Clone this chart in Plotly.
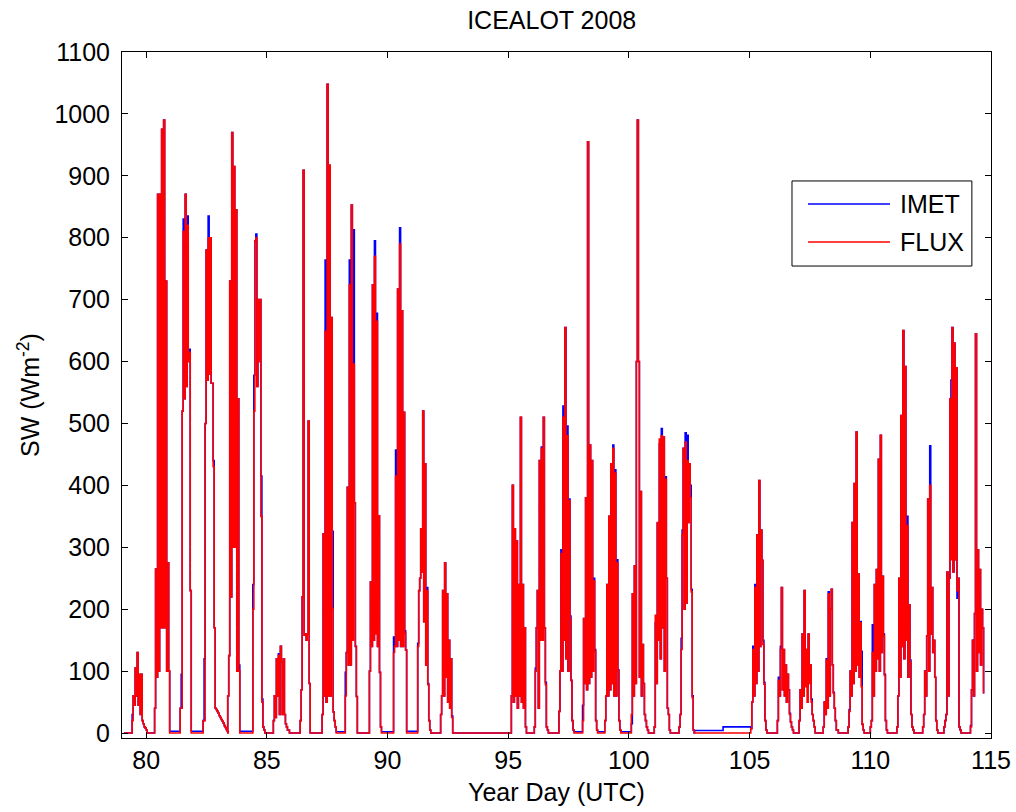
import plotly.graph_objects as go

# ---------------- data ----------------
# start time (year day) of each daylight record, hourly samples follow
pulse_start = [79.42, 80.35, 81.41, 82.36, 83.38, 84.42, 85.27, 86.38, 87.29, 88.25,
               89.25, 90.25, 91.25, 92.20, 95.13, 96.08, 97.10, 98.08, 99.00, 100.10,
               101.05, 102.08, 105.05, 106.15, 107.05, 108.05, 109.08, 110.00, 111.10,
               112.17, 113.05, 114.15]

# FLUX hourly shortwave values (W m-2) for each day
flux_079 = [20, 60, 45, 105, 60, 130, 45, 95, 30, 95, 20, 15, 10, 8, 5, 0]
flux_080 = [40, 265, 90, 870, 100, 870, 170, 975, 170, 990, 170, 730, 100, 275, 100, 0]
flux_081 = [40, 40, 520, 810, 540, 870, 560, 820, 600, 615, 230, 0]
flux_082 = [20, 20, 500, 780, 570, 800, 580, 800, 565, 565, 430, 170, 40, 38, 35, 32, 28,
            25, 22, 19, 16, 12, 9, 6, 3, 0]
flux_083 = [60, 125, 730, 220, 970, 300, 915, 300, 845, 100, 540, 100, 0]
flux_084 = [200, 520, 795, 800, 560, 700, 600, 700, 350, 50, 10, 5, 0]
flux_085 = [20, 60, 25, 120, 60, 125, 30, 140, 115, 30, 120, 30, 15, 10, 5, 5, 0]
flux_086 = [20, 70, 220, 909, 158, 160, 150, 160, 504, 80, 0]
flux_087 = [30, 322, 60, 649, 50, 1048, 60, 917, 60, 671, 201, 34, 20, 10, 0]
flux_088 = [60, 130, 397, 110, 724, 110, 853, 150, 596, 372, 140, 59, 0]
flux_089 = [100, 244, 140, 724, 150, 770, 160, 665, 140, 351, 98, 10, 0]
flux_090 = [130, 140, 415, 140, 717, 150, 790, 140, 682, 140, 518, 161, 134, 0]
flux_091 = [140, 230, 250, 330, 260, 520, 180, 435, 110, 230, 78, 20, 5, 0]
flux_092 = [30, 60, 230, 60, 275, 90, 225, 50, 150, 40, 120, 25, 0]
flux_095 = [60, 400, 50, 330, 60, 310, 40, 240, 60, 510, 50, 240, 40, 170, 10, 0]
flux_096 = [10, 100, 170, 230, 40, 440, 150, 460, 150, 510, 170, 78, 10, 5, 0]
flux_097 = [35, 100, 290, 100, 510, 150, 655, 120, 480, 100, 375, 185, 85, 20, 5, 0]
flux_098 = [20, 185, 80, 380, 70, 955, 80, 465, 90, 440, 100, 246, 132, 20, 5, 0]
flux_099 = [20, 60, 240, 60, 350, 70, 435, 80, 460, 60, 420, 60, 275, 100, 20, 5, 0]
flux_100 = [30, 225, 60, 270, 80, 600, 990, 600, 90, 390, 60, 143, 80, 30, 20, 10, 5, 0]
flux_101 = [10, 190, 80, 340, 150, 475, 120, 480, 170, 478, 100, 410, 250, 40, 30, 5, 0]
flux_102 = [10, 30, 135, 320, 460, 200, 470, 210, 440, 340, 435, 380, 228, 57, 5, 0]
flux_105 = [7, 50, 135, 60, 235, 80, 320, 100, 408, 140, 328, 279, 143, 79, 20, 5, 0]
flux_106 = [20, 85, 60, 135, 235, 70, 135, 60, 110, 50, 95, 70, 30, 18, 10, 5, 0]
flux_107 = [20, 70, 40, 160, 60, 230, 75, 135, 50, 160, 80, 110, 50, 30, 20, 10, 0]
flux_108 = [10, 50, 30, 118, 40, 225, 60, 200, 232, 110, 64, 40, 20, 5, 5, 0]
flux_109 = [10, 35, 100, 60, 340, 80, 403, 100, 486, 110, 257, 90, 178, 75, 14, 5, 0]
flux_110 = [10, 20, 130, 60, 240, 100, 264, 120, 442, 100, 481, 130, 253, 157, 93, 20, 5, 0]
flux_111 = [10, 60, 250, 90, 513, 140, 650, 120, 592, 150, 335, 90, 207, 114, 30, 10, 5, 0]
flux_112 = [10, 30, 100, 60, 157, 378, 100, 400, 160, 235, 130, 150, 90, 20, 5, 0]
flux_113 = [10, 20, 30, 260, 60, 250, 540, 280, 655, 260, 630, 280, 590, 230, 250, 10, 5, 0]
flux_114 = [10, 70, 150, 60, 193, 645, 100, 296, 130, 264, 110, 200, 170, 64]

flux_days = [flux_079, flux_080, flux_081, flux_082, flux_083, flux_084, flux_085, flux_086,
             flux_087, flux_088, flux_089, flux_090, flux_091, flux_092, flux_095, flux_096,
             flux_097, flux_098, flux_099, flux_100, flux_101, flux_102, flux_105, flux_106,
             flux_107, flux_108, flux_109, flux_110, flux_111, flux_112, flux_113, flux_114]

# IMET samples that differ from FLUX: (day, hour index, value)
imet_fix_day = [79, 81, 81, 81, 81, 82, 82, 82, 83, 84, 84, 84, 84, 84, 85, 87, 87, 88, 88, 88,
                89, 89, 89, 90, 90, 90, 90, 91, 91, 91, 92, 96, 96, 96, 97, 97, 97, 97, 97,
                98, 98, 98, 99, 99, 99, 99, 100, 101, 101, 101, 101, 101, 102, 102, 102, 102,
                102, 102, 102, 105, 105, 105, 105, 106, 106, 106, 107, 107, 107, 107, 108, 108,
                108, 109, 109, 109, 110, 110, 110, 111, 111, 112, 113, 113, 114]
imet_fix_idx = [0, 1, 3, 7, 9, 1, 5, 10, 11, 0, 1, 3, 8, 9, 5, 3, 10, 0, 4, 8,
                5, 6, 7, 0, 2, 6, 11, 0, 9, 10, 11, 1, 7, 11, 2, 4, 8, 10, 11,
                0, 11, 12, 8, 10, 12, 13, 0, 1, 3, 5, 7, 11, 2, 3, 6, 8,
                11, 12, 13, 2, 4, 12, 13, 1, 3, 12, 6, 8, 10, 12, 3, 5,
                10, 1, 12, 13, 2, 13, 14, 10, 13, 7, 7, 13, 0]
imet_fix_val = [30, 95, 830, 835, 620, 120, 835, 440, 110, 240, 578, 806, 415, 55, 128, 764,
                326, 98, 764, 813, 795, 333, 678, 155, 457, 816, 165, 145, 235, 80, 28, 105,
                462, 82, 296, 528, 496, 378, 189, 45, 250, 135, 465, 425, 280, 102, 15, 178,
                339, 467, 492, 414, 153, 328, 485, 481, 400, 232, 60, 140, 240, 150, 82, 90,
                140, 32, 80, 75, 85, 55, 120, 228, 66, 38, 180, 132, 175, 160, 95, 350, 118,
                464, 570, 218, 12]

# IMET night-time level after each day (W m-2)
imet_night = [0, 3, 3, 3, 3, 0, 0, 0, 2, 0, 2, 3, 0, 0, 0, 0,
              2, 2, 2, 0, 0, 0, 0, 0, 0, 0, 0, 0, 0, 0, 0, 0]

# IMET records during the FLUX outage, days 102.7-105
imet_gap_t = [102.72, 103.90]
imet_gap_v = [4, 10]

series_start_t = 79.08
series_start_v = 0

x_ticks = [80, 85, 90, 95, 100, 105, 110, 115]
y_ticks = list(range(0, 1101, 100))

# ---------------- build the two series ----------------
t_flux, v_flux = [series_start_t], [series_start_v]
t_imet, v_imet = [series_start_t], [series_start_v]
for k, (s, vals) in enumerate(zip(pulse_start, flux_days)):
    day = int(s)
    ivals = list(vals)
    for d, i, v in zip(imet_fix_day, imet_fix_idx, imet_fix_val):
        if d == day and i < len(ivals):
            ivals[i] = v
    if vals[-1] == 0:
        ivals[-1] = imet_night[k]
    for j in range(len(vals)):
        t = s + j / 24.0
        t_flux.append(t)
        v_flux.append(vals[j])
        t_imet.append(t)
        v_imet.append(ivals[j])
    if day == 102:
        t_imet.extend(imet_gap_t)
        v_imet.extend(imet_gap_v)

FONT = "Liberation Sans, Arial, Helvetica, sans-serif"
FS = 25

fig = go.Figure()
fig.add_trace(go.Scatter(x=t_imet, y=v_imet, mode="lines", name="IMET",
                         line=dict(color="#0000FF", width=1.6, shape="hv")))
fig.add_trace(go.Scatter(x=t_flux, y=v_flux, mode="lines", name="FLUX",
                         line=dict(color="#FF0000", width=1.6, shape="hv")))

# legend drawn as a MATLAB-style box
lx0, lx1, ly0, ly1 = 0.771, 0.978, 0.688, 0.812
fig.add_shape(type="rect", xref="paper", yref="paper", x0=lx0, x1=lx1, y0=ly0, y1=ly1,
              line=dict(color="black", width=1), fillcolor="white", layer="above")
for yy, col, name in [(0.7784, "#0000FF", "IMET"), (0.7230, "#FF0000", "FLUX")]:
    fig.add_shape(type="line", xref="paper", yref="paper", x0=0.7894, x1=0.8838, y0=yy, y1=yy,
                  line=dict(color=col, width=1.6), layer="above")
    fig.add_annotation(xref="paper", yref="paper", x=0.893, y=yy, text=name, showarrow=False,
                       xanchor="left", yanchor="middle", font=dict(family=FONT, size=FS, color="black"))

fig.update_layout(
    width=1016, height=812,
    paper_bgcolor="white", plot_bgcolor="white",
    margin=dict(l=122, r=25, t=52, b=74),
    showlegend=False,
    font=dict(family=FONT, size=FS, color="black"),
    title=dict(text="ICEALOT 2008", x=0.543, xanchor="center", y=0.975, yanchor="middle",
               font=dict(family=FONT, size=FS, color="black")),
)
fig.update_xaxes(range=[79, 115], tickvals=x_ticks, ticks="inside", ticklen=6, tickwidth=1,
                 tickcolor="black", showline=True, linecolor="black", linewidth=1,
                 mirror="allticks", showgrid=False, zeroline=False, automargin=False,
                 title=dict(text="Year Day (UTC)", standoff=10, font=dict(family=FONT, size=FS)),
                 tickfont=dict(family=FONT, size=FS))
fig.update_yaxes(range=[-8, 1100], tickvals=y_ticks, ticks="inside", ticklen=6, tickwidth=1,
                 tickcolor="black", showline=True, linecolor="black", linewidth=1,
                 mirror="allticks", showgrid=False, zeroline=False, automargin=False,
                 ticklabelstandoff=6,
                 title=dict(text="SW (Wm<sup>-2</sup>)", standoff=7, font=dict(family=FONT, size=FS)),
                 tickfont=dict(family=FONT, size=FS))

fig.write_html("out.html", config={"displayModeBar": False},
               post_script="document.body.style.margin='0px';")
